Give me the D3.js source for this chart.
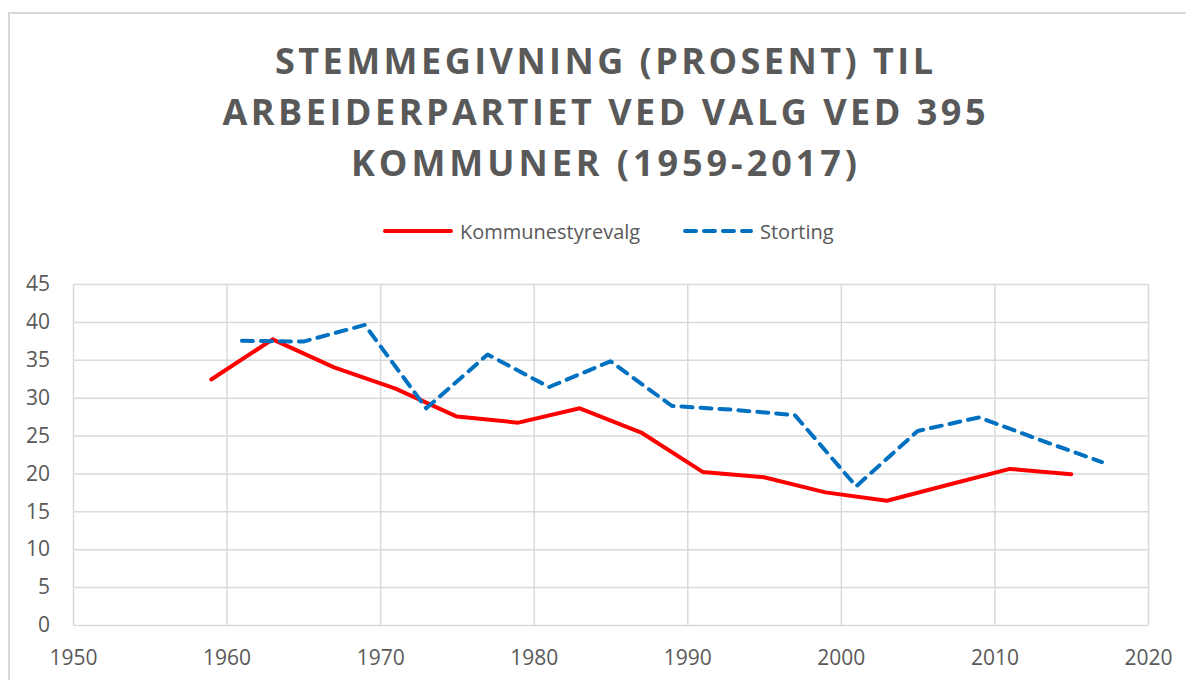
<!doctype html>
<html lang="no">
<head>
    <meta charset="UTF-8">
    <script src="https://cdnjs.cloudflare.com/ajax/libs/d3/7.8.5/d3.min.js"></script>
    <title>Stemmegivning Arbeiderpartiet</title>
    <style>
        body { margin: 0; background: #fff; }
        svg text { font-family: "Open Sans", "Noto Sans", sans-serif; fill: #595959; }
    </style>
</head>
<body>

<div id="viz_area"></div>

<script>
    // data
    const titleLines = ["STEMMEGIVNING (PROSENT) TIL", "ARBEIDERPARTIET VED VALG VED 395", "KOMMUNER (1959-2017)"];
    const seriesNames = ["Kommunestyrevalg", "Storting"];

    const kommuneYears = [1959, 1963, 1967, 1971, 1975, 1979, 1983, 1987, 1991, 1995, 1999, 2003, 2007, 2011, 2015];
    const kommuneValues = [32.4, 37.7, 34.0, 31.2, 27.5, 26.7, 28.6, 25.4, 20.2, 19.5, 17.5, 16.4, 18.5, 20.6, 19.9];

    const stortingYears = [1961, 1965, 1969, 1973, 1977, 1981, 1985, 1989, 1993, 1997, 2001, 2005, 2009, 2013, 2017];
    const stortingValues = [37.5, 37.4, 39.6, 28.6, 35.7, 31.4, 34.8, 28.9, 28.4, 27.7, 18.3, 25.6, 27.4, 24.4, 21.5];

    const xTicks = [1950, 1960, 1970, 1980, 1990, 2000, 2010, 2020];
    const yTicks = [0, 5, 10, 15, 20, 25, 30, 35, 40, 45];

    const W = 1186, H = 680;
    const margin = {top: 284, right: 38, bottom: 55, left: 73};

    const svg = d3.select('#viz_area')
        .append("svg")
        .attr("width", W)
        .attr("height", H);

    // chart frame
    svg.append("path")
        .attr("d", "M9," + H + "V13H" + W)
        .attr("fill", "none")
        .attr("stroke", "#d9d9d9")
        .attr("stroke-width", 2);

    // title
    const titleLen = [658, 763, 506];
    svg.append("g").selectAll("text")
        .data(titleLines)
        .join("text")
        .attr("x", 604)
        .attr("y", (d, i) => 74 + i * 51)
        .attr("text-anchor", "middle")
        .attr("textLength", (d, i) => titleLen[i])
        .attr("lengthAdjust", "spacing")
        .style("font-size", "36px")
        .style("font-weight", "bold")
        .text(d => d);

    const x = d3.scaleLinear().domain([1950, 2020]).range([margin.left, W - margin.right]);
    const y = d3.scaleLinear().domain([0, 45]).range([H - margin.bottom, margin.top]);

    // gridlines
    svg.append("g")
        .attr("transform", "translate(0," + (H - margin.bottom) + ")")
        .call(d3.axisBottom(x).tickValues(xTicks).tickSize(-(H - margin.bottom - margin.top)).tickFormat(""))
        .call(g => g.select(".domain").remove())
        .call(g => g.selectAll("line").attr("stroke", "#d9d9d9").attr("stroke-width", 1.5));

    svg.append("g")
        .attr("transform", "translate(" + margin.left + ",0)")
        .call(d3.axisLeft(y).tickValues(yTicks).tickSize(-(W - margin.right - margin.left)).tickFormat(""))
        .call(g => g.select(".domain").remove())
        .call(g => g.selectAll("line").attr("stroke", "#d9d9d9").attr("stroke-width", 1.5));

    // tick labels
    svg.append("g")
        .attr("transform", "translate(0," + (H - margin.bottom) + ")")
        .call(d3.axisBottom(x).tickValues(xTicks).tickSize(0).tickPadding(25).tickFormat(d3.format("d")))
        .call(g => g.select(".domain").remove())
        .call(g => g.selectAll("text").style("font-size", "21px").attr("fill", "#595959"));

    svg.append("g")
        .attr("transform", "translate(" + margin.left + ",0)")
        .call(d3.axisLeft(y).tickValues(yTicks).tickSize(0).tickPadding(23))
        .call(g => g.select(".domain").remove())
        .call(g => g.selectAll("text").style("font-size", "21px").attr("fill", "#595959"));

    // lines
    const line = d3.line().x(d => x(d[0])).y(d => y(d[1]));

    svg.append("path")
        .datum(d3.zip(kommuneYears, kommuneValues))
        .attr("d", line)
        .attr("fill", "none")
        .attr("stroke", "#ff0000")
        .attr("stroke-width", 4)
        .attr("stroke-linecap", "round")
        .attr("stroke-linejoin", "round");

    svg.append("path")
        .datum(d3.zip(stortingYears, stortingValues))
        .attr("d", line)
        .attr("fill", "none")
        .attr("stroke", "#0070c0")
        .attr("stroke-width", 4)
        .attr("stroke-dasharray", "11,8")
        .attr("stroke-linecap", "round")
        .attr("stroke-linejoin", "round");

    // legend
    const legend = svg.append("g");
    const legendX = [385, 685];
    const legendStyle = [
        {stroke: "#ff0000", dash: null},
        {stroke: "#0070c0", dash: "11,8"}
    ];
    seriesNames.forEach((name, i) => {
        legend.append("line")
            .attr("x1", legendX[i]).attr("x2", legendX[i] + 66)
            .attr("y1", 231).attr("y2", 231)
            .attr("stroke", legendStyle[i].stroke)
            .attr("stroke-width", 4)
            .attr("stroke-linecap", "round")
            .attr("stroke-dasharray", legendStyle[i].dash);
        legend.append("text")
            .attr("x", legendX[i] + 75)
            .attr("y", 239)
            .style("font-size", "20px")
            .text(name);
    });
</script>
</body>
</html>
